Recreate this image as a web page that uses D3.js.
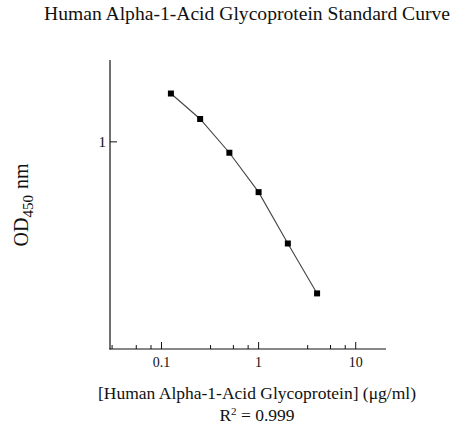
<!DOCTYPE html>
<html><head><meta charset="utf-8">
<script src="https://cdn.jsdelivr.net/npm/d3@7"></script>
<style>
html,body{margin:0;padding:0;background:#fff;}
svg text{font-family:"Liberation Serif","Times New Roman",serif;fill:#111;}
</style></head>
<body>
<script>
const concentrations = [0.125, 0.25, 0.5, 1, 2, 4];
const odValues = [1.47, 1.20, 0.917, 0.67, 0.445, 0.299];
const xMajorTicks = [0.1, 1, 10];
const xMinorTicks = [0.031, 0.055, 0.078, 0.32, 0.55, 0.78, 3.2, 5.5, 7.8];
const yMajorTicks = [1];
const title = "Human Alpha-1-Acid Glycoprotein Standard Curve";
const xLabel = "[Human Alpha-1-Acid Glycoprotein] (\u03bcg/ml)";

const W = 455, H = 430;
const svg = d3.select("body").append("svg").attr("width", W).attr("height", H);

const x = d3.scaleLog().domain([0.0295, 20.5]).range([110, 386]);
const y = d3.scaleLog().domain([0.192, 1.92]).range([349, 60]);

// title
svg.append("text").attr("x", 247).attr("y", 20).attr("text-anchor", "middle")
  .style("font-size", "19.6px").text(title);

// axes lines
const g = svg.append("g").attr("stroke", "#111").attr("stroke-width", 1.2);
g.append("line").attr("x1", 110).attr("x2", 110).attr("y1", 60).attr("y2", 349.5);
g.append("line").attr("x1", 109.5).attr("x2", 386).attr("y1", 349).attr("y2", 349);

// x ticks
svg.append("g").selectAll("line.maj").data(xMajorTicks).join("line")
  .attr("x1", d => x(d)).attr("x2", d => x(d)).attr("y1", 349).attr("y2", 342)
  .attr("stroke", "#111").attr("stroke-width", 1);
svg.append("g").selectAll("line.min").data(xMinorTicks).join("line")
  .attr("x1", d => x(d)).attr("x2", d => x(d)).attr("y1", 349).attr("y2", 345)
  .attr("stroke", "#111").attr("stroke-width", 1);
svg.append("g").selectAll("text").data(xMajorTicks).join("text")
  .attr("x", d => x(d)).attr("y", 367).attr("text-anchor", "middle")
  .style("font-size", "14px").text(d => d3.format("~g")(d));

// y ticks
svg.append("g").selectAll("line").data(yMajorTicks).join("line")
  .attr("x1", 110).attr("x2", 117).attr("y1", d => y(d)).attr("y2", d => y(d))
  .attr("stroke", "#111").attr("stroke-width", 1);
svg.append("g").selectAll("text").data(yMajorTicks).join("text")
  .attr("x", 106).attr("y", d => y(d) + 5).attr("text-anchor", "end")
  .style("font-size", "15px").text(d => d);

// line
svg.append("path").datum(concentrations.map((c, i) => [c, odValues[i]]))
  .attr("fill", "none").attr("stroke", "#444").attr("stroke-width", 1.1)
  .attr("d", d3.line().x(d => x(d[0])).y(d => y(d[1])));
// markers
svg.append("g").selectAll("rect").data(concentrations).join("rect")
  .attr("x", (d) => x(d) - 3).attr("y", (d, i) => y(odValues[i]) - 3)
  .attr("width", 6).attr("height", 6).attr("fill", "#000");

// x label
svg.append("text").attr("x", 257).attr("y", 399).attr("text-anchor", "middle")
  .style("font-size", "17.5px").text(xLabel);
const r2 = svg.append("text").attr("x", 257).attr("y", 421).attr("text-anchor", "middle")
  .style("font-size", "17.5px");
r2.append("tspan").text("R");
r2.append("tspan").attr("dy", -6).style("font-size", "11px").text("2");
r2.append("tspan").attr("dy", 6).text(" = 0.999");

// y label
const yl = svg.append("text").attr("transform", "translate(28,205) rotate(-90)")
  .attr("text-anchor", "middle").style("font-size", "20px");
yl.append("tspan").text("OD");
yl.append("tspan").attr("dy", 5).style("font-size", "15px").text("450");
yl.append("tspan").attr("dy", -5).attr("dx", 6).text("nm");
</script>
</body></html>
